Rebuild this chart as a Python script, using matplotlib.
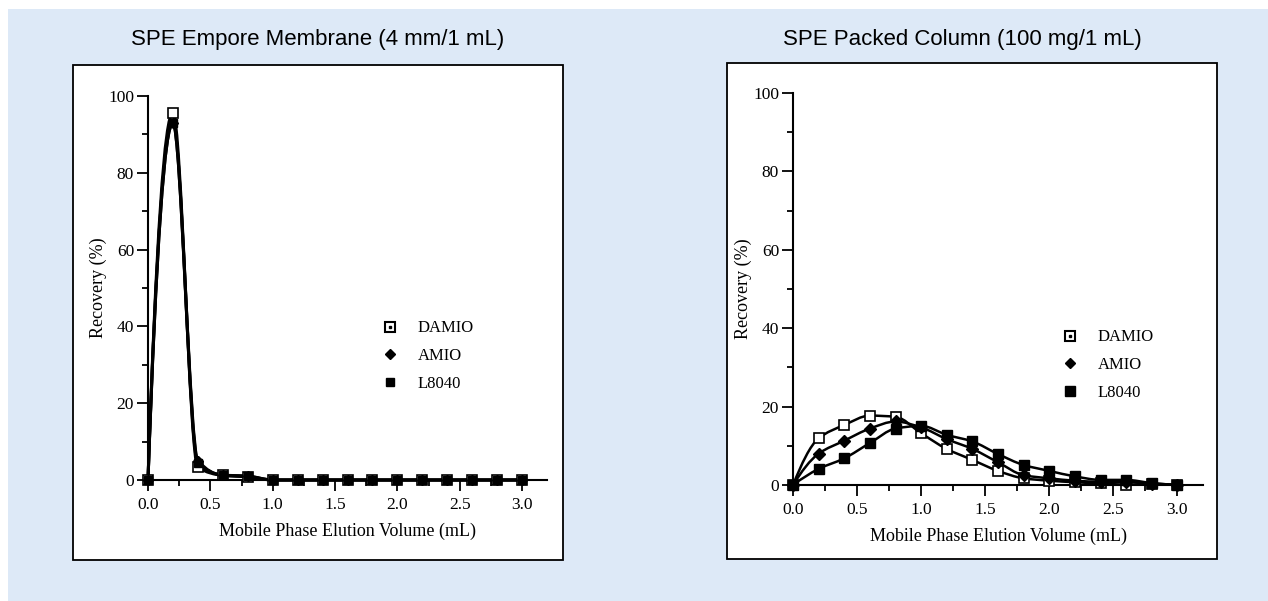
import numpy as np
import matplotlib
matplotlib.use('Agg')
import matplotlib.pyplot as plt
from matplotlib.path import Path
from matplotlib.patches import PathPatch, Rectangle
from matplotlib.lines import Line2D
from matplotlib.ticker import MultipleLocator

# elution volume (mL)
volume = [0.0, 0.2, 0.4, 0.6, 0.8, 1.0, 1.2, 1.4, 1.6, 1.8, 2.0, 2.2, 2.4, 2.6, 2.8, 3.0]

# SPE Empore membrane, recovery (%)
mem_damio = [0, 95.6, 3.3, 1.2, 0.8, 0, 0, 0, 0, 0, 0, 0, 0, 0, 0, 0]
mem_amio = [0, 93.0, 5.0, 1.2, 1.0, 0, 0, 0, 0, 0, 0, 0, 0, 0, 0, 0]
mem_l8040 = [0, 93.0, 4.3, 1.3, 1.0, 0, 0, 0, 0, 0, 0, 0, 0, 0, 0, 0]

# SPE packed column, recovery (%)
col_damio = [0, 11.9, 15.3, 17.7, 17.4, 13.2, 9.2, 6.4, 3.6, 1.7, 1.1, 0.7, 0.4, 0.1, 0.3, 0]
col_amio = [0, 8.0, 11.3, 14.4, 16.2, 14.7, 11.7, 9.2, 5.8, 2.5, 1.7, 1.1, 0.8, 0.8, 0.3, 0]
col_l8040 = [0, 4.1, 6.8, 10.7, 14.4, 15.1, 12.8, 11.1, 7.9, 5.1, 3.6, 2.2, 1.3, 1.3, 0.5, 0]

series_names = ['DAMIO', 'AMIO', 'L8040']

SERIF = ['Liberation Serif', 'DejaVu Serif']
SANS = ['Liberation Sans Narrow', 'Liberation Sans', 'DejaVu Sans']
BG = '#dde9f7'


def end_slope(h0, h1, d0, d1):
    m = ((2 * h0 + h1) * d0 - h0 * d1) / (h0 + h1)
    if np.sign(m) != np.sign(d0):
        return 0.0
    if np.sign(d0) != np.sign(d1) and abs(m) > 3 * abs(d0):
        return 3 * d0
    return m


def smooth_path(x, y):
    # monotone cubic (Fritsch-Carlson) through the points, as bezier segments
    x = np.asarray(x, float)
    y = np.asarray(y, float)
    h = np.diff(x)
    d = np.diff(y) / h
    m = np.zeros_like(y)
    m[0] = end_slope(h[0], h[1], d[0], d[1])
    m[-1] = end_slope(h[-1], h[-2], d[-1], d[-2])
    for i in range(1, len(y) - 1):
        if d[i - 1] * d[i] <= 0:
            m[i] = 0
        else:
            m[i] = 2 / (1 / d[i - 1] + 1 / d[i])
    verts = [(x[0], y[0])]
    codes = [Path.MOVETO]
    for i in range(len(x) - 1):
        verts += [(x[i] + h[i] / 3, y[i] + m[i] * h[i] / 3),
                  (x[i + 1] - h[i] / 3, y[i + 1] - m[i + 1] * h[i] / 3),
                  (x[i + 1], y[i + 1])]
        codes += [Path.CURVE4] * 3
    return Path(verts, codes)


fig = plt.figure(figsize=(12.68, 6.01), dpi=100)
W, H = 1268, 601

# light blue backdrop and white panels
fig.patches.append(Rectangle((8 / W, 0), 1, 1 - 9 / H, transform=fig.transFigure,
                             facecolor=BG, edgecolor='none', zorder=-3))
for x0, y0, x1, y1 in [(73, 65, 563, 560), (727, 63, 1217, 559)]:
    fig.patches.append(Rectangle((x0 / W, 1 - y1 / H), (x1 - x0) / W, (y1 - y0) / H,
                                 transform=fig.transFigure, facecolor='white',
                                 edgecolor='black', lw=1.3, zorder=-2))

panels = [
    dict(rect=[148 / W, 1 - 480 / H, 399 / W, 384 / H],
         title='SPE Empore Membrane (4 mm/1 mL)', tx=318,
         data=[mem_damio, mem_amio, mem_l8040], leg=(373, 312), lw=2.2,
         ms=(6.5, 5.5, 6)),
    dict(rect=[793 / W, 1 - 485 / H, 410 / W, 392 / H],
         title='SPE Packed Column (100 mg/1 mL)', tx=962,
         data=[col_damio, col_amio, col_l8040], leg=(1053, 321), lw=1.8,
         ms=(7, 6, 7.5)),
]

for p in panels:
    ax = fig.add_axes(p['rect'])
    ax.set_facecolor('none')
    damio, amio, l8040 = p['data']
    ms_d, ms_a, ms_l = p['ms']
    for vals in p['data']:
        ax.add_patch(PathPatch(smooth_path(volume, vals), facecolor='none',
                               edgecolor='black', lw=p['lw'], clip_on=False, zorder=2))
    ax.plot(volume, damio, ls='none', marker='s', ms=ms_d, mfc='white', mec='black',
            mew=1.2, clip_on=False, zorder=3)
    ax.plot(volume, amio, ls='none', marker='D', ms=ms_a, color='black',
            clip_on=False, zorder=3)
    ax.plot(volume, l8040, ls='none', marker='s', ms=ms_l, color='black',
            clip_on=False, zorder=3)

    ax.set_xlim(0, 3.2)
    ax.set_ylim(0, 100)
    ax.xaxis.set_minor_locator(MultipleLocator(0.25))
    ax.yaxis.set_major_locator(MultipleLocator(20))
    ax.yaxis.set_minor_locator(MultipleLocator(10))
    ax.set_xticks([0, 0.5, 1.0, 1.5, 2.0, 2.5, 3.0])
    ax.set_xticklabels(['%.1f' % v for v in [0, 0.5, 1.0, 1.5, 2.0, 2.5, 3.0]])
    for s in ['top', 'right']:
        ax.spines[s].set_visible(False)
    for s in ['left', 'bottom']:
        ax.spines[s].set_linewidth(1.5)
    ax.tick_params(which='major', direction='out', length=8, width=1.3,
                   labelsize=12.5, pad=2)
    ax.tick_params(axis='x', which='major', pad=4)
    ax.tick_params(which='minor', direction='out', length=4, width=1.3)
    for lab in ax.get_xticklabels() + ax.get_yticklabels():
        lab.set_family(SERIF)
    ax.set_xlabel('Mobile Phase Elution Volume (mL)', family=SERIF, fontsize=13,
                  labelpad=7)
    ax.set_ylabel('Recovery (%)', family=SERIF, fontsize=13, labelpad=1)

    fig.text(p['tx'] / W, 1 - 40 / H, p['title'], family=SANS, fontsize=16,
             ha='center', va='center')

    handles = [
        (Line2D([], [], ls='none', marker='s', ms=6.5, mfc='white', mec='black', mew=1.5),
         Line2D([], [], ls='none', marker='s', ms=2, color='black')),
        Line2D([], [], ls='none', marker='D', ms=5.5, color='black'),
        Line2D([], [], ls='none', marker='s', ms=ms_l, color='black'),
    ]
    lx, ly = p['leg']
    ax.legend(handles, series_names, loc='upper left',
              bbox_to_anchor=(lx / W, 1 - ly / H), bbox_transform=fig.transFigure,
              frameon=False, borderpad=0, handlelength=1.0, handletextpad=1.2,
              labelspacing=0.7, prop={'family': SERIF, 'size': 12})

fig.savefig('out.png', dpi=100, facecolor='white')
